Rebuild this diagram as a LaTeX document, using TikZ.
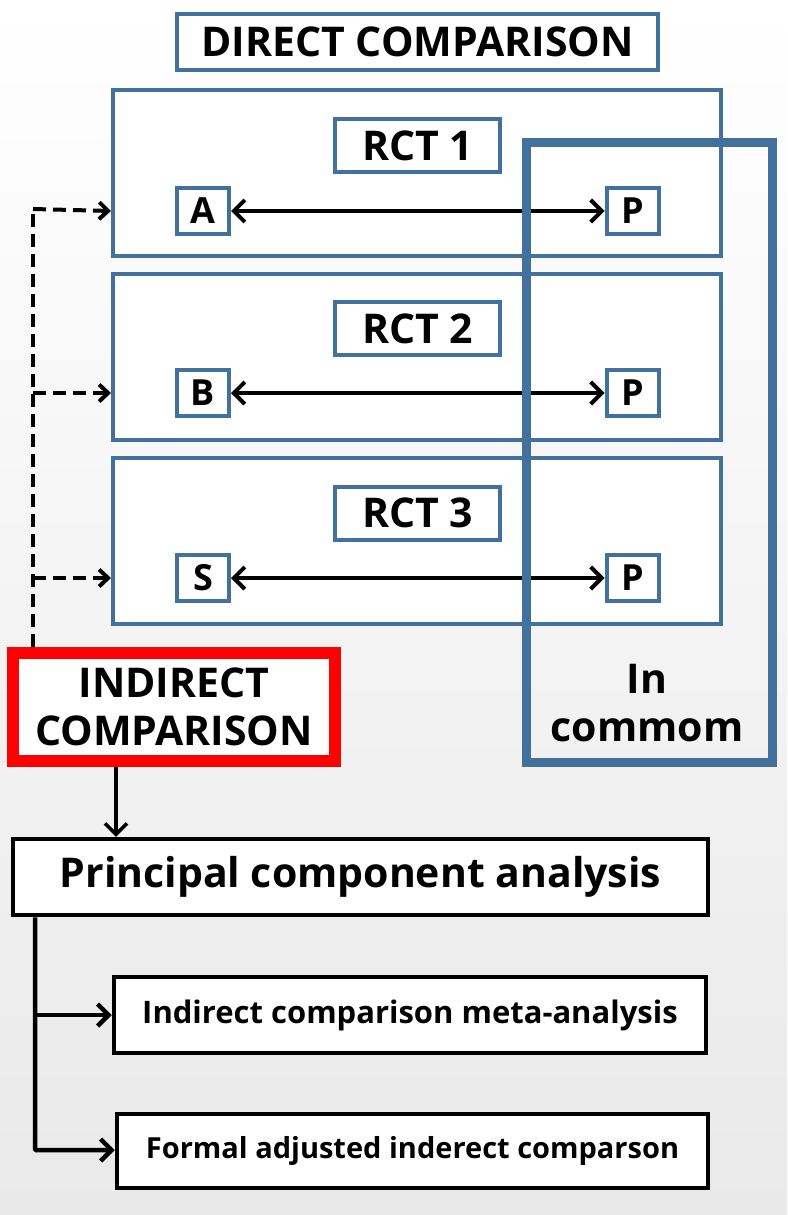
\documentclass[tikz,border=0pt]{standalone}
\usepackage{fontspec}
\setmainfont{Open Sans}
\usetikzlibrary{arrows.meta,positioning}
\definecolor{rctblue}{HTML}{41719C}
\definecolor{alertred}{HTML}{FF0000}
\definecolor{bggray}{HTML}{E9E9E9}
\tikzset{
    study diagram/.style = {x=1pt, y=-1pt,
                            >={Straight Barb[length=11pt, width=22pt]}},
    bigtext/.style       = {font=\fontsize{41}{48}\selectfont\bfseries},
    midtext/.style       = {font=\fontsize{32}{40}\selectfont\bfseries},
    bluebox/.style       = {draw=rctblue, line width=4pt, fill=white,
                            inner sep=0pt},
    blackbox/.style      = {draw=black, line width=4.5pt, fill=white,
                            inner sep=0pt},
    armbox/.style        = {bluebox, font=\fontsize{36}{40}\selectfont\bfseries,
                            minimum width=52pt, minimum height=46pt},
    labelbox/.style      = {bluebox, bigtext, minimum width=165pt,
                            minimum height=53pt},
    trialbox/.style      = {bluebox, minimum width=608pt,
                            minimum height=166pt},
    line/.style          = {line width=4pt},
    dashline/.style      = {line width=4pt, dash pattern=on 13pt off 7pt},
    dash tip/.style      = {>={Straight Barb[length=9pt, width=17pt]}},
    enclosure/.style     = {draw=rctblue, line width=9pt, inner sep=0pt},
    alert/.style         = {draw=alertred, line width=12pt, fill=white,
                            inner sep=0pt}
}
\begin{document}
\begin{tikzpicture}[study diagram]

% ================= Canvas =================
\useasboundingbox (0,0) rectangle (787,1215);
\fill[top color=white, bottom color=bggray] (0,0) rectangle (787,1215);

% ================= Direct comparison =================
\node[bluebox, bigtext, minimum width=481pt, minimum height=56pt]
    (direct) at (417.5, 42) {DIRECT COMPARISON};

% ================= Trials =================
\node[trialbox] (rct1) at (417, 173) {};
\node[trialbox] (rct2) at (417, 357) {};
\node[trialbox] (rct3) at (417, 540.5) {};

\node[labelbox] (rct1 label) at (417.5, 145.5) {RCT 1};
\node[labelbox] (rct2 label) at (417.5, 328.5) {RCT 2};
\node[labelbox] (rct3 label) at (417.5, 513) {RCT 3};

\node[armbox] (a)  at (203, 211) {A};
\node[armbox] (p1) at (632.5, 211) {P};
\node[armbox] (b)  at (203, 393) {B};
\node[armbox] (p2) at (632.5, 393) {P};
\node[armbox] (s)  at (203, 578) {S};
\node[armbox] (p3) at (632.5, 578) {P};

\draw[<->, line] (a) -- (p1);
\draw[<->, line] (b) -- (p2);
\draw[<->, line] (s) -- (p3);

% ================= Common comparator =================
\node[enclosure, minimum width=246pt, minimum height=620pt]
    (common) at (649, 452) {};
\node[bigtext, align=center] (common label) at (647, 703) {In\\commom};

% ================= Indirect comparison =================
\node[alert, bigtext, align=center, minimum width=322pt,
      minimum height=108pt] (indirect) at (174, 707)
    {INDIRECT\\COMPARISON};

\coordinate (trunk) at (33, 209);
\draw[dashline] (indirect.north -| trunk) -- (trunk);
\draw[->, dashline, dash tip] (trunk) -- (rct1.west |- a);
\draw[->, dashline, dash tip] (b -| trunk) -- (rct1.west |- b);
\draw[->, dashline, dash tip] (s -| trunk) -- (rct1.west |- s);

% ================= Analysis =================
\node[blackbox, bigtext, minimum width=695pt, minimum height=76pt]
    (pca) at (360.5, 877) {Principal component analysis};
\draw[->, line, line width=3.5pt] (indirect.south -| 116, 0) -- (pca.north -| 116, 0);

\node[blackbox, midtext, font=\fontsize{31}{40}\selectfont\bfseries,
      minimum width=592pt, minimum height=76pt]
    (meta) at (410, 1015) {Indirect comparison meta-analysis};
\node[blackbox, midtext, font=\fontsize{29}{40}\selectfont\bfseries,
      minimum width=591pt, minimum height=74pt]
    (formal) at (412.5, 1151) {Formal adjusted inderect comparson};

\coordinate (branch) at (35, 1150);
\draw[->, line, line width=4.5pt, rounded corners=1pt]
    (pca.south -| branch) -- (branch) -- (formal.west |- branch);
\draw[->, line, line width=4.5pt] (meta.west -| branch) -- (meta.west);

\end{tikzpicture}
\end{document}
